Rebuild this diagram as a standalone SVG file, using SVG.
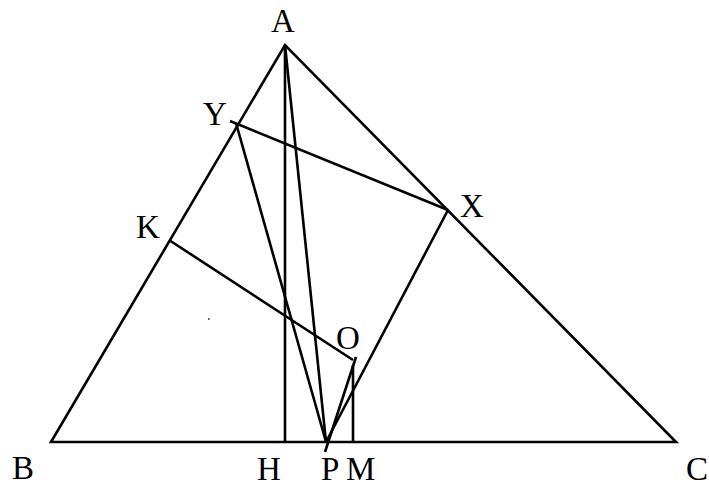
<svg xmlns="http://www.w3.org/2000/svg" width="709" height="488" viewBox="0 0 709 488">
<style>
.l{stroke:#000;stroke-width:2.6;fill:none;stroke-linecap:butt}
.t{font-family:"Liberation Serif","Times New Roman",serif;font-size:33px;fill:#000}
</style>
<rect width="709" height="488" fill="#fff"/>
<g id="connectors">
<path class="l" d="M51,442 L285,45 L676,442 Z" stroke-linejoin="miter"/>
<line class="l" x1="285" y1="45" x2="285" y2="442"/>
<line class="l" x1="285" y1="45" x2="326" y2="442"/>
<line class="l" x1="230" y1="121" x2="448" y2="210"/>
<line class="l" x1="236" y1="123" x2="326" y2="442"/>
<line class="l" x1="448" y1="210" x2="326" y2="442"/>
<line class="l" x1="169" y1="240" x2="353" y2="360"/>
<line class="l" x1="356" y1="357" x2="325" y2="452"/>
<line class="l" x1="353" y1="365" x2="353" y2="442"/>
</g>
<rect x="208" y="318" width="1.5" height="2" fill="#555"/>
<g id="A"><text class="t" x="271" y="32">A</text></g>
<g id="Y"><text class="t" x="203" y="125">Y</text></g>
<g id="X"><text class="t" x="460" y="217">X</text></g>
<g id="K"><text class="t" x="136" y="238">K</text></g>
<g id="O"><text class="t" x="336" y="349">O</text></g>
<g id="B"><text class="t" x="12" y="479">B</text></g>
<g id="H"><text class="t" x="257" y="480">H</text></g>
<g id="P"><text class="t" x="321" y="480">P</text></g>
<g id="M"><text class="t" x="346" y="480">M</text></g>
<g id="C"><text class="t" x="686" y="480">C</text></g>
</svg>
